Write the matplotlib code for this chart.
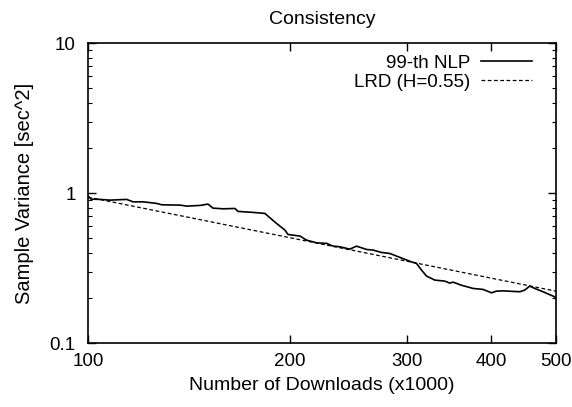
import matplotlib
matplotlib.use('Agg')
import matplotlib.pyplot as plt
from matplotlib.ticker import FixedLocator, NullFormatter, NullLocator

# 99-th NLP sample variance
nlp_x = [100, 101.0, 104.2, 107.9, 114.2, 116.7, 120.8, 126.6, 128.8, 137.2,
         140.4, 147.0, 151.0, 153.7, 159.1, 165.7, 167.5, 176.3, 183.7, 191.2,
         196.8, 198.9, 207.3, 212.0, 219.5, 227.2, 232.3, 237.7, 246.0, 251.8,
         260.6, 266.6, 274.4, 282.3, 292.2, 304.1, 309.4, 314.8, 320.3, 329.6,
         341.1, 347.0, 351.0, 361.3, 375.9, 389.0, 400.5, 407.4, 416.8, 441.4,
         449.0, 456.8, 464.7, 478.2, 497.8, 500]
nlp_y = [0.955, 0.912, 0.908, 0.898, 0.908, 0.875, 0.875, 0.854, 0.836, 0.832,
         0.819, 0.828, 0.845, 0.794, 0.786, 0.790, 0.755, 0.744, 0.732, 0.628,
         0.567, 0.530, 0.517, 0.486, 0.466, 0.462, 0.443, 0.439, 0.423, 0.443,
         0.421, 0.417, 0.402, 0.396, 0.373, 0.348, 0.340, 0.307, 0.280, 0.263,
         0.259, 0.251, 0.255, 0.243, 0.2315, 0.228, 0.2164, 0.222, 0.223, 0.220,
         0.2256, 0.240, 0.2315, 0.220, 0.2035, 0.198]

# LRD fit line (straight on log-log), end points
lrd_x = [100, 500]
lrd_y = [0.94, 0.222]

x_ticks = [100, 200, 300, 400, 500]
y_ticks = [0.1, 1, 10]
y_labels = ['0.1', '1', '10']

plt.rcParams['font.family'] = ['Liberation Sans', 'DejaVu Sans']

fig = plt.figure(figsize=(5.72, 4.07), dpi=100)
ax = fig.add_axes([0.154, 0.157, 0.818, 0.737])

ax.plot(nlp_x, nlp_y, color='black', lw=1.2, label='99-th NLP')
ax.plot(lrd_x, lrd_y, color='black', lw=0.9, linestyle=(0, (3, 2)), label='LRD (H=0.55)')

ax.set_xscale('log')
ax.set_yscale('log')
ax.set_xlim(100, 500)
ax.set_ylim(0.1, 10)

ax.xaxis.set_major_locator(FixedLocator(x_ticks))
ax.xaxis.set_minor_locator(NullLocator())
ax.xaxis.set_minor_formatter(NullFormatter())
ax.set_xticklabels([str(t) for t in x_ticks])
ax.yaxis.set_major_locator(FixedLocator(y_ticks))
ax.set_yticklabels(y_labels)
ax.yaxis.set_minor_formatter(NullFormatter())

ax.tick_params(which='major', direction='in', top=True, right=True,
               length=6, width=1, labelsize=13.5)
ax.tick_params(which='minor', direction='in', top=True, right=True,
               length=3, width=0.8)
ax.tick_params(axis='x', pad=7)
ax.tick_params(axis='y', pad=9)
for s in ax.spines.values():
    s.set_linewidth(1.2)

ax.set_title('Consistency', fontsize=14, pad=14)
ax.set_xlabel('Number of Downloads (x1000)', fontsize=14, labelpad=5)
ax.set_ylabel('Sample Variance [sec^2]', fontsize=14.5, labelpad=11)

ax.legend(loc='upper right', bbox_to_anchor=(0.949, 0.962), frameon=False,
          markerfirst=False, fontsize=13.5, handlelength=2.7,
          handletextpad=0.6, labelspacing=0.1, borderpad=0, borderaxespad=0)

fig.savefig('out.png', dpi=100)
